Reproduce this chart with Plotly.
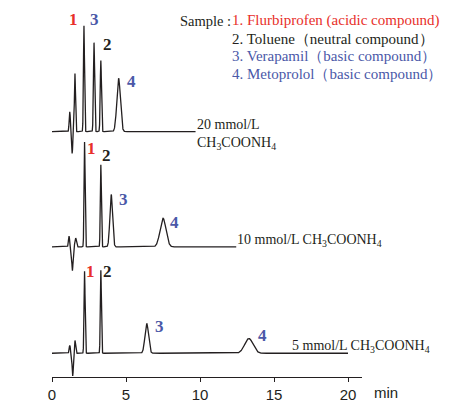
import numpy as np
import plotly.graph_objects as go

# ---- data (time in min, heights in px units) ----
# trace a) 20 mmol/L
a_times   = [1.20, 1.36, 1.55, 2.16, 2.84, 3.30, 4.50]
a_heights = [20, -22, 59, 107, 90, 72, 54]
a_sigmas  = [0.04, 0.04, 0.035, 0.035, 0.04, 0.04, 0.12]
a_end = 9.7
a_base = 248

# trace b) 10 mmol/L
b_times   = [1.15, 1.38, 1.60, 2.20, 3.30, 4.00, 7.50]
b_heights = [11, -24, 9, 106, 83, 53, 29]
b_sigmas  = [0.04, 0.04, 0.05, 0.035, 0.035, 0.09, 0.2]
b_end = 12.45
b_base = 131.5

# trace c) 5 mmol/L
c_times   = [1.20, 1.40, 1.55, 2.20, 3.30, 6.40, 13.30]
c_heights = [8, -23, 13, 83, 84, 30, 15]
c_sigmas  = [0.04, 0.04, 0.04, 0.035, 0.035, 0.12, 0.28]
c_end = 20.0
c_base = 24

tick_vals = [0, 5, 10, 15, 20]
tick_text = ["0", "5", "10", "15", "20"]

RED = "#e8302a"
BLUE = "#4a58a8"
BLACK = "#231f20"

def chrom(times, heights, sigmas, end, base):
    t = np.arange(0, end + 1e-9, 0.004)
    y = np.full_like(t, float(base))
    for t0, h, s in zip(times, heights, sigmas):
        y += h * np.exp(-0.5 * ((t - t0) / s) ** 2)
    return t, y

fig = go.Figure()
for times, heights, sigmas, end, base in [
    (a_times, a_heights, a_sigmas, a_end, a_base),
    (b_times, b_heights, b_sigmas, b_end, b_base),
    (c_times, c_heights, c_sigmas, c_end, c_base),
]:
    t, y = chrom(times, heights, sigmas, end, base)
    fig.add_trace(go.Scatter(x=t, y=y, mode="lines",
                             line=dict(color=BLACK, width=1.3),
                             hoverinfo="skip", showlegend=False))

serif = "Liberation Serif"
sans = "Liberation Sans"
ann = []

def lab(x, y, text, color, size=17, bold=True, xanchor="center"):
    ann.append(dict(x=x, y=y, xref="x", yref="y", text=("<b>%s</b>" % text) if bold else text,
                    showarrow=False, xanchor=xanchor, yanchor="middle",
                    font=dict(family=serif, size=size, color=color)))

# peak labels
lab(1.42, 361, "1", RED); lab(2.90, 361, "3", BLUE); lab(3.72, 336, "2", BLACK); lab(5.34, 299, "4", BLUE)
lab(2.64, 231, "1", RED); lab(3.65, 224, "2", BLACK); lab(4.80, 179, "3", BLUE); lab(8.30, 156, "4", BLUE)
lab(2.57, 107, "1", RED); lab(3.72, 107, "2", BLACK); lab(7.23, 51, "3", BLUE); lab(14.19, 42, "4", BLUE)

# panel letters
lab(-1.69, 269, "a)", BLACK, size=16)
lab(-1.76, 151, "b)", BLACK, size=16)
lab(-1.69, 31, "c)", BLACK, size=16)

# buffer concentrations
cs = "CH<sub>3</sub>COONH<sub>4</sub>"
lab(9.68, 255, "20 mmol/L", BLACK, size=14, bold=False, xanchor="left")
lab(9.68, 236, cs, BLACK, size=14, bold=False, xanchor="left")
lab(12.35, 138, "10 mmol/L " + cs, BLACK, size=14, bold=False, xanchor="left")
lab(16.1, 31, "5 mmol/L " + cs, BLACK, size=14, bold=False, xanchor="left")

# page body has an 8px margin: shift the figure frame accordingly
OFF = 8
W, H = 457 - OFF, 405 - OFF
L, T = 52 - OFF, 10 - OFF
R = W - (362 - OFF)
B = H - (381 - OFF)
pw, ph = W - L - R, H - T - B
def px(xp): return (xp - OFF - L) / pw
def py(yp): return (H - B - (yp - OFF)) / ph

def ptext(x, y, text, color, xanchor="left", size=15, family=serif):
    ann.append(dict(x=x, y=y, xref="paper", yref="paper", text=text, showarrow=False,
                    xanchor=xanchor, yanchor="middle",
                    font=dict(family=family, size=size, color=color)))

ptext(px(233), py(21), "Sample :", BLACK, xanchor="right", size=14.5)
ptext(px(230), py(21), "1. Flurbiprofen (acidic compound)", RED)
ptext(px(230), py(39), "2. Toluene（neutral compound）", BLACK)
ptext(px(230), py(57), "3. Verapamil（basic compound）", BLUE)
ptext(px(230), py(75), "4. Metoprolol（basic compound）", BLUE)

ptext(px(386), py(397), "min", BLACK, xanchor="center", size=15, family=sans)

fig.update_layout(
    width=W, height=H,
    margin=dict(l=L, r=R, t=T, b=B, pad=0),
    paper_bgcolor="white", plot_bgcolor="white",
    annotations=ann,
    xaxis=dict(range=[0, pw / 14.8], tickmode="array", tickvals=tick_vals, ticktext=tick_text,
               showline=True, linecolor=BLACK, linewidth=1, ticks="outside", ticklen=4,
               tickcolor=BLACK, showgrid=False, zeroline=False,
               tickfont=dict(family=sans, size=15, color=BLACK)),
    yaxis=dict(range=[0, ph], visible=False, showgrid=False, zeroline=False),
)

fig.write_html("out.html")
